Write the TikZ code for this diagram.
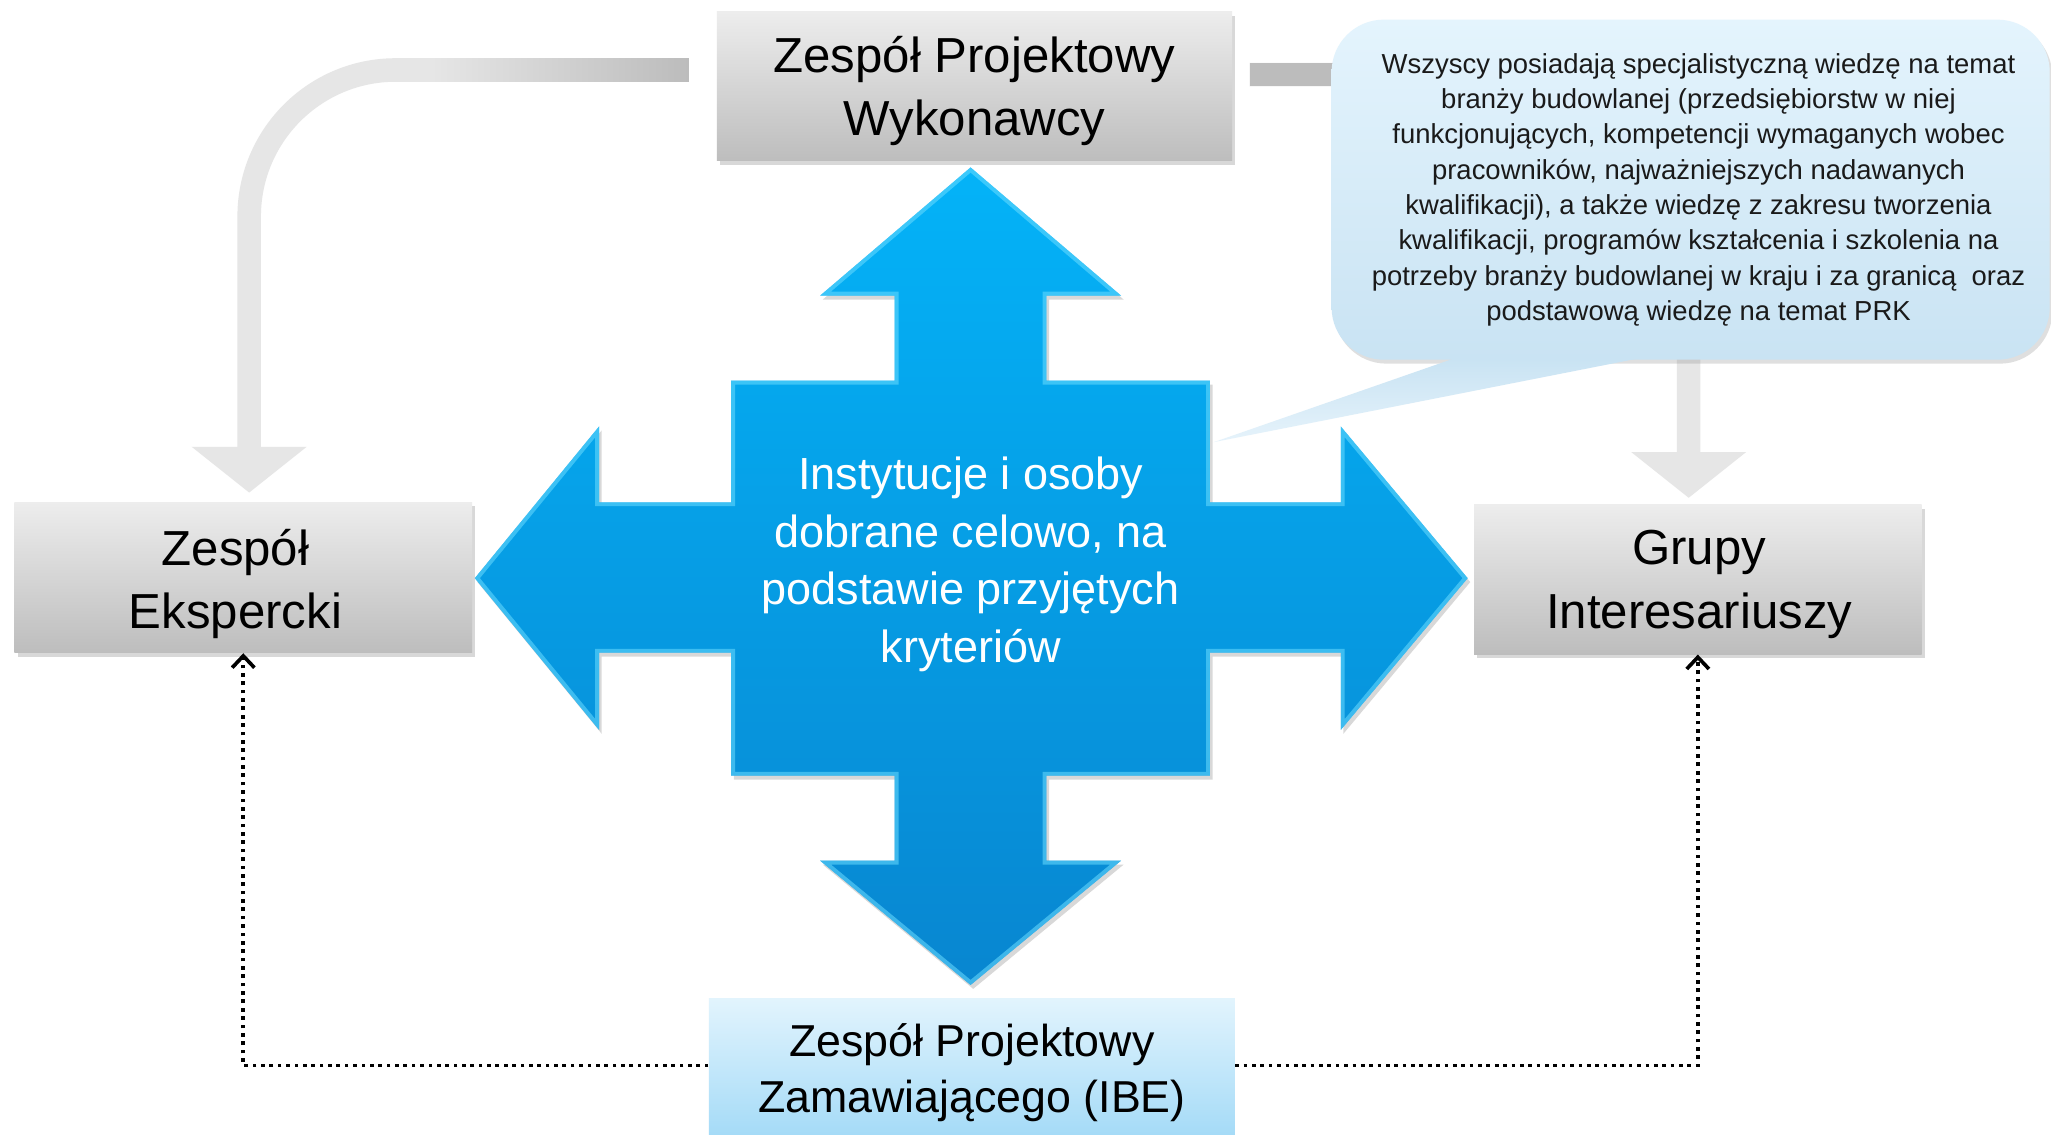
\documentclass[tikz,border=0pt]{standalone}
\usepackage{fontspec}
\setmainfont{Liberation Sans}
\usetikzlibrary{calc,shadows,arrows.meta}
\definecolor{boxtop}{HTML}{EDEDED}
\definecolor{boxbot}{HTML}{BDBDBD}
\definecolor{bluetop}{HTML}{04B3F8}
\definecolor{bluebot}{HTML}{0886D0}
\definecolor{blueedge}{HTML}{6ADCFF}
\definecolor{ibetop}{HTML}{E2F4FD}
\definecolor{ibebot}{HTML}{A3DAF7}
\definecolor{calltop}{HTML}{E4F4FD}
\definecolor{callbot}{HTML}{C9E3F3}
\definecolor{ptrtip}{HTML}{E6F3FB}
\definecolor{calltext}{HTML}{1A1A1A}
\definecolor{linkgray}{HTML}{E6E6E6}
\definecolor{stubgray}{HTML}{BCBCBC}
\def\crossoutline{(742,128) -- (857,226) -- (800,226) -- (800,291) -- (925,291) -- (925,384) -- (1025,384) -- (1025,326) -- (1122,442) -- (1025,558) -- (1025,499) -- (925,499) -- (925,593) -- (800,593) -- (800,658) -- (857,658) -- (742,753) -- (627,658) -- (684,658) -- (684,593) -- (559,593) -- (559,499) -- (458,499) -- (458,558) -- (363,442) -- (458,326) -- (458,384) -- (559,384) -- (559,291) -- (684,291) -- (684,226) -- (627,226) -- cycle}
\begin{document}
\begin{tikzpicture}[x=0.5pt,y=-0.5pt,
  graybox/.style={rectangle, inner sep=0pt, top color=boxtop, bottom color=boxbot,
    drop shadow={shadow xshift=1.2pt, shadow yshift=-1.5pt, opacity=0.3}},
  boxtext/.style={align=center, inner sep=0pt, font=\fontsize{18.8pt}{24.4pt}\selectfont},
  graylink/.style={draw=linkgray, line width=9pt, rounded corners=56pt,
    -{Triangle[width=43pt,length=17.5pt]}},
  dotline/.style={draw=black, line width=1.4pt, dash pattern=on 1.4pt off 1.8pt,
    -{Straight Barb[length=4.5pt,width=8.5pt]}},
]
\useasboundingbox (0,0) rectangle (1568,867);
\fill[white] (0,0) rectangle (1568,867);

% boxes
\node[graybox, minimum width=197pt, minimum height=57pt,
  label={[boxtext, yshift=-1.8pt]center:{Zespół Projektowy\\Wykonawcy}}] (top) at (745,66) {};
\node[graybox, minimum width=175pt, minimum height=57.5pt,
  label={[boxtext, yshift=-2.5pt, xshift=-3pt]center:{Zespół\\Ekspercki}}] (left) at (186,441.5) {};
\node[graybox, minimum width=171pt, minimum height=57pt,
  label={[boxtext, yshift=-2pt, xshift=0.5pt]center:{Grupy\\Interesariuszy}}] (right) at (1298,443) {};

% gray connectors
\draw[graylink] ($(top.west)+(-21,-12.5)$) -| ($(left.north)+(4.5,-7)$);
\shade[left color=linkgray, right color=stubgray] (330,44.5) rectangle ($(top.west)+(-21,-3.5)$);
\draw[graylink] ($(top.east)+(13,-9)$) -| ($(right.north)+(-7,-5)$);
\fill[stubgray] ($(top.east)+(13,-18)$) rectangle (1030,66);

% central cross
\shade[top color=bluetop, bottom color=bluebot,
  drop shadow={shadow xshift=1pt, shadow yshift=-1.5pt, opacity=0.3}] \crossoutline;
\begin{scope}
  \clip \crossoutline;
  \draw[blueedge, line width=3pt, opacity=0.55, line join=miter] \crossoutline;
\end{scope}
\node[text=white, align=center, font=\fontsize{17.2pt}{22pt}\selectfont] (hub) at (742,431.5)
  {Instytucje i osoby\\dobrane celowo, na\\podstawie przyjętych\\kryteriów};

% bottom box
\node[rectangle, inner sep=0pt, top color=ibetop, bottom color=ibebot, minimum width=201pt, minimum height=54pt,
  label={[align=center, inner sep=0pt, font=\fontsize{17.1pt}{21.5pt}\selectfont, yshift=-1.5pt]center:{Zespół Projektowy\\Zamawiającego (IBE)}}]
  (bottom) at (743,817) {};

% callout
\node[rectangle, rounded corners=20pt, top color=calltop, bottom color=callbot,
  minimum width=274.5pt, minimum height=130pt, inner sep=0pt,
  drop shadow={shadow xshift=1pt, shadow yshift=-1.5pt, opacity=0.25},
  label={[align=center, inner sep=0pt, text=calltext, font=\fontsize{10.5pt}{13.5pt}\selectfont, xshift=3pt]center:{Wszyscy posiadają specjalistyczną wiedzę na temat\\
   branży budowlanej (przedsiębiorstw w niej\\
   funkcjonujących, kompetencji wymaganych wobec\\
   pracowników, najważniejszych nadawanych\\
   kwalifikacji), a także wiedzę z zakresu tworzenia\\
   kwalifikacji, programów kształcenia i szkolenia na\\
   potrzeby branży budowlanej w kraju i za granicą\ \ oraz\\
   podstawową wiedzę na temat PRK}}] (callout) at (1292.5,145) {};
\coordinate (ptr) at (928,338);
\shade[top color=callbot, bottom color=ptrtip]
  ($(callout.south west)+(93,-1)$) -- (ptr) -- ($(callout.south west)+(233,-1)$) -- cycle;

% dotted connectors
\draw[dotline] ($(bottom.west)+(0,-2.5)$) -| (left.south);
\draw[dotline] ($(bottom.east)+(0,-2.5)$) -| (right.south);
\end{tikzpicture}
\end{document}
